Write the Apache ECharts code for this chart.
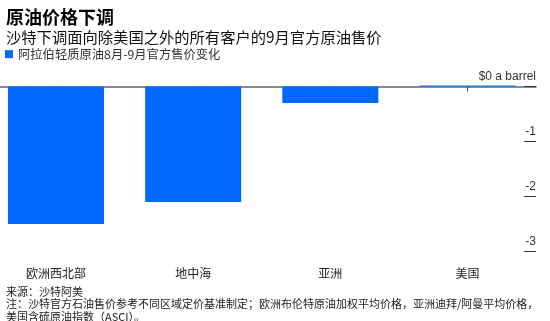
<!DOCTYPE html>
<html>
<head>
<meta charset="utf-8">
<script src="https://cdn.jsdelivr.net/npm/echarts@6/dist/echarts.min.js"></script>
<style>
html,body{margin:0;padding:0;background:#fff;}
#chart{width:550px;height:321px;}
</style>
</head>
<body>
<div id="chart"></div>
<script>
var titleText = '原油价格下调';
var subtitleText = '沙特下调面向除美国之外的所有客户的9月官方原油售价';
var seriesName = '阿拉伯轻质原油8月-9月官方售价变化';
var categories = ['欧洲西北部', '地中海', '亚洲', '美国'];
var values = [-2.5, -2.1, -0.3, 0];
var yTicks = { min: -3, max: 0, interval: 1 };
var zeroLabel = '$0 a barrel';
var sourceText = '来源：沙特阿美';
var noteText = '注：沙特官方石油售价参考不同区域定价基准制定；欧洲布伦特原油加权平均价格，亚洲迪拜/阿曼平均价格，\n美国含硫原油指数（ASCI）。';

var CJK = '"Noto Sans CJK SC", sans-serif';
var LAT = '"Liberation Sans", Arial, sans-serif';

var chart = echarts.init(document.getElementById('chart'));
chart.setOption({
  backgroundColor: '#fff',
  animation: false,
  title: [
    { text: titleText, left: 1, top: 3,
      textStyle: { fontFamily: CJK, fontSize: 18, fontWeight: 'bold', color: '#000' } },
    { text: subtitleText, left: 1, top: 25,
      textStyle: { fontFamily: CJK, fontSize: 15.3, fontWeight: 'normal', color: '#111' } },
    { text: sourceText, left: 1, top: 281,
      textStyle: { fontFamily: CJK, fontSize: 11, fontWeight: 'normal', color: '#222' } },
    { text: noteText, left: 1, top: 292,
      textStyle: { fontFamily: CJK, fontSize: 11, fontWeight: 'normal', color: '#222', lineHeight: 13 } }
  ],
  legend: {
    left: 5, top: 48, padding: 0,
    itemWidth: 8, itemHeight: 8, icon: 'rect',
    textStyle: { fontFamily: CJK, fontSize: 12.3, color: '#333' },
    data: [seriesName]
  },
  grid: [
    // bars grid: category centres span from first to last bar centre
    { left: 56, right: 82.5, top: 86.5, bottom: 69.5, containLabel: false },
    // frame grid: zero line and right-hand value ticks
    { left: 0, right: 14, top: 86.5, bottom: 69.5, containLabel: false }
  ],
  xAxis: [
    {
      gridIndex: 0,
      type: 'category',
      data: categories,
      boundaryGap: false,
      axisLine: { show: false },
      axisTick: { show: true, length: 5, lineStyle: { color: '#444' } },
      axisLabel: { margin: 16, fontFamily: CJK, fontSize: 12, color: '#222' }
    },
    {
      gridIndex: 1,
      type: 'category',
      data: categories,
      axisLine: { show: true, onZero: true, lineStyle: { color: '#666', width: 1.5 } },
      axisTick: { show: false },
      axisLabel: { show: false }
    }
  ],
  yAxis: [
    {
      gridIndex: 0,
      type: 'value',
      min: yTicks.min, max: yTicks.max, interval: yTicks.interval,
      show: false
    },
    {
      gridIndex: 1,
      type: 'value',
      position: 'right',
      min: yTicks.min, max: yTicks.max, interval: yTicks.interval,
      axisLine: { show: false },
      splitLine: { show: false },
      axisTick: { show: true, inside: true, length: 12, lineStyle: { color: '#333', width: 1 } },
      axisLabel: {
        inside: true, margin: 0, verticalAlign: 'bottom', padding: [0, 0, 4, 0],
        fontFamily: LAT, fontSize: 12, color: '#333',
        formatter: function (v) { return v === 0 ? zeroLabel : String(v); }
      }
    }
  ],
  series: [{
    name: seriesName,
    type: 'bar',
    xAxisIndex: 0,
    yAxisIndex: 0,
    data: values,
    barWidth: 96,
    barMinHeight: 1,
    clip: false,
    z: 3,
    itemStyle: { color: '#0068ff' }
  }]
});
</script>
</body>
</html>
